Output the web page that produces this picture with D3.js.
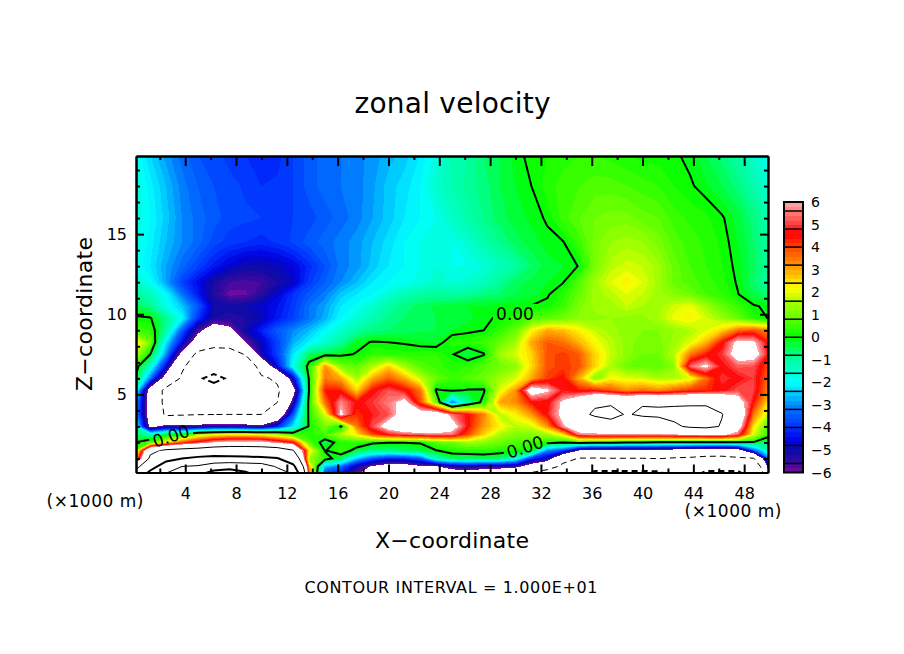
<!DOCTYPE html>
<html>
<head>
<meta charset="utf-8">
<title>zonal velocity</title>
<script src="https://cdn.jsdelivr.net/npm/d3@7"></script>
<style>
body { margin: 0; background: #fff; }
text { font-family: "DejaVu Sans", sans-serif; fill: #000; }
</style>
</head>
<body>
<svg id="chart" width="904" height="654"></svg>
<script>
// zonal velocity, one row per height, top row first
const xStep = 1.25
const zLevels = [20, 18, 16, 14.5, 13, 12, 11.25, 10.5, 9.75, 9, 8.25, 7.5, 6.75, 6, 5.25, 4.5, 3.75, 3, 2.5, 2, 1.5, 1, 0.5, 0]
const zonalRows = [
[-1.8,-2.4,-2.9,-3.3,-3.6,-3.7,-3.9,-4.0,-4.2,-4.1,-3.8,-3.5,-3.3,-3.2,-3.1,-2.9,-2.7,-2.5,-2.2,-1.7,-1.1,-1.0,-0.6,-0.4,-0.1,0.1,0.2,0.3,0.4,0.4,0.3,0.2,0.1,0.1,0.05,-0.1,-0.4,-0.7,-1.0,-1.5,-1.9],
[-1.6,-2.1,-2.6,-3.1,-3.4,-3.6,-3.7,-3.85,-4.0,-3.95,-3.8,-3.5,-3.3,-3.2,-3.1,-2.85,-2.5,-2.3,-2.0,-1.5,-1.2,-0.9,-0.7,-0.4,-0.2,0,0.3,0.5,0.6,0.7,0.7,0.6,0.5,0.4,0.2,0.05,-0.15,-0.4,-0.7,-1.1,-1.6],
[-1.6,-2.0,-2.5,-3.0,-3.3,-3.5,-3.7,-3.75,-3.8,-3.9,-3.8,-3.7,-3.5,-3.3,-3.1,-2.8,-2.5,-2.2,-2.0,-1.8,-1.4,-1.1,-0.8,-0.5,-0.3,-0.15,0.05,0.5,0.8,1.0,1.1,1.1,0.9,0.8,0.5,0.35,0.25,0.05,-0.3,-0.7,-1.2],
[-1.7,-2.1,-2.6,-3.0,-3.3,-3.7,-3.9,-4.0,-4.1,-3.95,-3.75,-3.5,-3.3,-3.1,-2.9,-2.6,-2.3,-2.0,-1.8,-1.7,-1.8,-1.5,-1.1,-0.8,-0.5,-0.3,-0.1,-0.02,0.5,1.1,1.4,1.5,1.4,1.1,0.7,0.5,0.35,0.15,-0.2,-0.6,-1.0],
[-1.8,-2.2,-2.8,-3.3,-3.8,-4.3,-4.7,-5.0,-5.0,-4.9,-4.6,-4.1,-3.6,-3.1,-2.9,-2.5,-2.2,-2.0,-1.8,-1.6,-1.8,-1.8,-1.6,-1.3,-1.0,-0.6,-0.3,-0.2,0.02,1.1,1.7,1.9,1.8,1.5,0.9,0.6,0.4,0.2,-0.1,-0.5,-1.0],
[-1.4,-1.9,-2.8,-3.8,-4.5,-5.2,-5.6,-5.7,-5.6,-5.2,-4.8,-3.9,-3.4,-3.0,-2.6,-2.2,-2.0,-1.9,-1.7,-1.5,-1.6,-1.5,-1.3,-0.9,-0.5,-0.35,-0.2,-0.02,0.7,1.5,2.0,2.3,2.0,1.5,0.9,0.7,0.5,0.3,-0.05,-0.6,-1.0],
[-0.9,-1.3,-2.0,-3.2,-4.3,-5.3,-5.9,-5.85,-5.4,-4.7,-4.0,-3.5,-3.1,-2.5,-2.2,-2.0,-1.6,-1.2,-1.0,-0.9,-1.0,-0.9,-0.7,-0.6,-0.4,-0.3,-0.05,0.3,0.9,1.5,1.7,2.0,1.8,1.5,1.2,1.0,0.6,0.4,0.02,-0.4,-0.7],
[-0.4,-0.8,-1.8,-2.5,-3.5,-5.0,-5.1,-5.0,-4.7,-4.4,-3.9,-3.2,-2.8,-2.2,-1.9,-1.5,-1.0,-0.7,-0.5,-0.35,-0.25,-0.2,-0.15,-0.1,-0.05,0.02,0.1,0.5,1.1,1.5,1.5,1.8,1.6,1.5,1.9,2.1,1.5,0.9,0.5,0.05,-0.1],
[0.1,0.05,-0.8,-2.0,-4.0,-5.2,-5.3,-5.2,-4.9,-4.3,-3.8,-3.2,-2.7,-2.0,-1.6,-1.2,-0.8,-0.6,-0.5,-0.4,-0.3,-0.25,-0.1,0.08,0.3,0.7,0.8,1.0,1.3,1.3,1.4,1.3,1.3,1.6,2.1,2.3,1.9,1.4,0.9,0.3,-0.05],
[0.6,0.4,-1.0,-3.5,-5.6,-7.0,-6.3,-5.0,-4.2,-3.5,-3.0,-2.6,-2.0,-1.5,-1.0,-0.7,-0.6,-0.5,-0.45,-0.4,-0.2,-0.1,0,0.4,0.9,2.2,3.0,2.8,2.3,1.8,1.5,1.3,1.2,1.2,1.4,1.6,2.0,2.6,3.6,3.9,3.3],
[2.7,1.0,-2.2,-4.5,-7.0,-8.0,-8.5,-6.0,-4.8,-3.8,-2.7,-2.1,-1.5,-0.9,-0.2,0.05,0,-0.05,-0.15,-0.25,0.3,0.35,0.5,0.9,1.5,3.0,3.8,3.6,2.9,2.2,1.7,1.3,1.1,1.1,1.5,2.0,2.9,4.5,6.4,6.2,4.3],
[1.8,0,-3.0,-6.5,-11,-12.5,-11.5,-9.8,-5.0,-3.8,-2.2,-0.5,-0.3,-0.15,0.05,0.4,0.35,0.3,0.3,0.4,0.05,-0.4,-0.05,1.5,1.9,2.6,3.9,4.1,3.8,2.6,1.8,1.3,1.0,1.0,1.7,3.5,4.4,5.0,6.8,6.8,4.5],
[0.5,-1.5,-4.5,-9.5,-12,-13,-14,-13,-8.5,-4.5,-1.8,0.3,3.2,1.2,0.8,1.6,2.6,1.5,0.8,0.5,0.3,0.4,0.7,1.0,1.3,2.5,3.9,4.1,3.9,2.6,1.6,1.0,0.9,0.8,1.3,5.4,6.3,4.6,5.3,5.2,3.8],
[0.1,-3.2,-7,-10.5,-18,-24,-18,-13,-10.5,-9.5,-4.7,0.1,3.5,3.0,1.5,3.0,3.8,3.0,1.8,0.9,0.5,0.7,1.0,1.5,1.9,3.0,4.1,4.6,3.0,1.2,2.2,2.0,1.9,1.6,1.6,2.0,3.6,5.0,4.6,5.0,3.5],
[-1,-7,-11,-12,-13,-13.5,-13.5,-13,-12,-10.5,-6.8,0.05,4.4,4.4,2.6,4.6,5.2,4.7,3.6,-0.1,0.1,-0.05,-0.1,2.0,3.2,7,6.2,4.7,4.4,4.4,3.9,3.3,3.6,3.3,3.8,4.2,4.3,4.6,5.2,5.0,3.2],
[-2.2,-7,-11,-12,-12.5,-12.5,-12.5,-12.5,-12,-10,-5.3,0.3,3.6,5.7,4.6,5.0,5.6,6.5,4.0,1.0,-3.2,-1,0.3,3.0,3.3,4.5,4.5,6.3,7.5,9.5,9.7,9,9.8,9.6,9.6,9.6,9.6,9.0,7.0,4.5,2.2],
[-2.2,-7,-10.5,-10.3,-10.1,-10.05,-10,-10,-10,-8,-3.5,0.2,2.0,6.3,4.2,4.8,5.2,6.8,7,7.3,5.5,4.6,3.4,1.7,2.3,3.2,4.7,6.5,9.0,10.5,10.8,9.8,10.4,10.6,10.8,11,11,10.1,8.0,3.5,1.6],
[-1,-6.5,-5.4,-5.5,-5.3,-5,-5,-5.2,-5.5,-4.2,-2.2,0.1,1.1,-0.1,3.5,5.2,6.8,8,8.5,8.5,6.8,4.6,3.1,2.3,1.7,1.9,3.2,5.8,7.2,7.4,8.8,8,7.8,8,9.5,10.5,10.8,9.8,7,2.4,0.5],
[-0.5,-1.3,-0.3,-0.1,1.5,2,2.2,2.2,2,1.5,0.6,0.3,0.6,1.6,2.4,4,4.8,5.2,5.4,5.6,5.5,4,2.6,1.6,1.2,1.2,1.5,2.5,5.6,5.8,5.8,5.8,5.8,5.8,6,6.2,6.3,6.4,5.4,2,0.3],
[0,0.8,2.5,4,5,6,6.5,6.5,6.5,5.5,4.6,0.8,-0.4,0.3,0.5,0.1,0.02,0.02,0.05,0.8,1,1.5,1.3,1,0.7,0.5,0.3,0.02,0.4,0.3,0.3,0.1,-0.02,-0.1,-0.2,-0.2,-0.2,-0.2,-0.1,-0.1,-0.8],
[0.1,9,10.8,11.5,12,13,13.5,13.5,13,12.5,10.2,2.5,-0.05,0.5,-0.3,-0.7,-0.7,-0.5,-0.35,-0.03,0.3,0.4,0.4,0.3,0.2,0.1,-3,-3.8,-6,-6.5,-6.6,-6.5,-6.5,-6.6,-6.8,-7,-7.3,-7.5,-7,-3.5,-1.2],
[2,10.8,17,20,22,23,22.5,22,21.5,20.5,15,1.5,0.4,-0.5,-2.5,-3.6,-4.2,-4.1,-3.5,-1.3,-0.5,-0.5,-0.4,-0.6,-1.5,-4,-5,-8.5,-10.2,-10.2,-10.1,-10.1,-10.1,-9.9,-10.3,-10.5,-11,-11,-10.5,-10.2,-3],
[7,16,25,30,31,35,37,36,35,29,22,3,-2.5,-3.3,-5,-6.2,-6.8,-6.8,-6.2,-6.1,-5.2,-5,-5.3,-5.3,-5.5,-7,-8,-11,-15,-17.5,-17.5,-17.5,-17.5,-17,-15,-15,-17.5,-17.5,-17.5,-14,-4.5],
[12,24,31,36,39,45,46,42,38,35,30,4,-4,-4.5,-6,-8,-9,-9,-8.5,-8,-7.5,-7,-7.5,-8,-9,-11,-13,-18,-19,-22,-22,-22,-22,-22,-18,-18,-22,-22,-22,-17,-6]
]

const xTicks = [4, 8, 12, 16, 20, 24, 28, 32, 36, 40, 44, 48]
const xMinorTicks = [2, 6, 10, 14, 18, 22, 26, 30, 34, 38, 42, 46]
const zTicks = [5, 10, 15]
const zMinorTicks = [1, 2, 3, 4, 6, 7, 8, 9, 11, 12, 13, 14, 16, 17, 18, 19]
const barTicks = [6, 5, 4, 3, 2, 1, 0, -1, -2, -3, -4, -5, -6]
const barBreaks = [-5.6, -4.8, -4, -3.2, -2.4, -1.6, -0.8, 0, 0.8, 1.6, 2.4, 3.2, 4, 4.8, 5.6]
const contourLevels = [-20, -10, 0, 10, 20, 30, 40]
const colourStops = [-6, -5.6, -5, -4.6, -4, -3.2, -2.4, -2, -1.6, -0.8, 0, 0.8, 1.6, 2.2, 3, 4, 4.6, 5.2, 6]
const colourValues = ["#7a0aa0", "#3a0a9e", "#0a0aa8", "#0000e0", "#0030ff", "#0070ff", "#00d8ff", "#00ffff", "#00ffd8", "#00ff90", "#00ff00", "#5aff00", "#aaff00", "#ffff00", "#ffaa00", "#ff4600", "#ff0000", "#ff5050", "#ffaaaa"]
const zeroLabels = [
	{ x: 515, y: 314, angle: 0 },
	{ x: 171, y: 436, angle: -18 },
	{ x: 525, y: 447, angle: -18 }
]

const svg = d3.select("#chart")

const x = d3.scaleLinear().domain([0.125, 49.875]).range([136, 768])
const z = d3.scaleLinear().domain([0.125, 19.875]).range([472.5, 156])
const barY = d3.scaleLinear().domain([-6, 6]).range([472.5, 202])
const colour = d3.scaleLinear().domain(colourStops).range(colourValues)

// contour coordinates are in grid cells, a grid node sits at i + 0.5
const rowToZ = d3.scaleLinear().domain(zLevels.map((d, i) => i + 0.5)).range(zLevels)
const colToX = (c) => (c - 0.5) * xStep

const cols = zonalRows[0].length
const rows = zonalRows.length
const values = zonalRows.flat()

const path = d3.geoPath(d3.geoTransform({
	point: function (cx, cy) {
		this.stream.point(x(colToX(cx)), z(rowToZ(cy)))
	}
}))
const contours = d3.contours().size([cols, rows]).smooth(true)

svg.append("clipPath").attr("id", "plotClip")
	.append("rect").attr("x", 136).attr("y", 156).attr("width", 632).attr("height", 316.5)

const plot = svg.append("g").attr("clip-path", "url(#plotClip)")

// colour bands, painted from low to high, under -6 and over 6 stay white
const bands = d3.range(61).map((i) => -6 + i * 0.2)
plot.selectAll("path.band")
	.data(bands)
	.join("path")
	.attr("class", "band")
	.attr("d", (t) => path(contours.contour(values, t)))
	.attr("fill", (t) => (t >= 5.99 ? "#fff" : colour(t + 0.1)))
	.attr("shape-rendering", "crispEdges")

// the contour line stops where its label sits
const mask = svg.append("mask").attr("id", "labelGaps").attr("maskUnits", "userSpaceOnUse")
	.attr("x", 0).attr("y", 0).attr("width", 904).attr("height", 654)
mask.append("rect").attr("width", 904).attr("height", 654).attr("fill", "#fff")
mask.selectAll("rect.gap")
	.data(zeroLabels)
	.join("rect")
	.attr("class", "gap")
	.attr("x", -22).attr("y", -10).attr("width", 44).attr("height", 20)
	.attr("fill", "#000")
	.attr("transform", (d) => `translate(${d.x},${d.y}) rotate(${d.angle})`)

plot.append("g").attr("mask", "url(#labelGaps)")
	.selectAll("path.level")
	.data(contourLevels)
	.join("path")
	.attr("class", "level")
	.attr("d", (t) => path(contours.contour(values, t)))
	.attr("fill", "none")
	.attr("stroke", "#000")
	.attr("stroke-width", (t) => (t % 20 === 0 ? 2 : 1))
	.attr("stroke-dasharray", (t) => (t < 0 ? "6,4" : null))

plot.selectAll("text.zero")
	.data(zeroLabels)
	.join("text")
	.attr("class", "zero")
	.attr("text-anchor", "middle")
	.attr("dy", "0.36em")
	.attr("font-size", 17)
	.attr("transform", (d) => `translate(${d.x},${d.y}) rotate(${d.angle})`)
	.text("0.00")

// axes, all ticks point inwards
function addAxis(axis, tx, ty) {
	const g = svg.append("g").attr("transform", `translate(${tx},${ty})`).call(axis)
	g.select(".domain").attr("stroke", "#000").attr("stroke-width", 2)
	g.selectAll("line").attr("stroke", "#000").attr("stroke-width", 2)
	g.selectAll("text").attr("fill", "#000").attr("font-size", 16).attr("font-family", "DejaVu Sans")
	return g
}
const blank = () => ""

addAxis(d3.axisBottom(x).tickValues(xTicks).tickSizeInner(-8).tickSizeOuter(0).tickPadding(15).tickFormat(d3.format("d")), 0, 472.5)
addAxis(d3.axisBottom(x).tickValues(xMinorTicks).tickSizeInner(-4).tickSizeOuter(0).tickFormat(blank), 0, 472.5)
addAxis(d3.axisTop(x).tickValues(xTicks).tickSizeInner(-10).tickSizeOuter(0).tickFormat(blank), 0, 156)
addAxis(d3.axisTop(x).tickValues(xMinorTicks).tickSizeInner(-4).tickSizeOuter(0).tickFormat(blank), 0, 156)
addAxis(d3.axisLeft(z).tickValues(zTicks).tickSizeInner(-8).tickSizeOuter(0).tickPadding(9).tickFormat(d3.format("d")), 136, 0)
addAxis(d3.axisLeft(z).tickValues(zMinorTicks).tickSizeInner(-4).tickSizeOuter(0).tickFormat(blank), 136, 0)
addAxis(d3.axisRight(z).tickValues(zTicks).tickSizeInner(-8).tickSizeOuter(0).tickFormat(blank), 768, 0)
addAxis(d3.axisRight(z).tickValues(zMinorTicks).tickSizeInner(-4).tickSizeOuter(0).tickFormat(blank), 768, 0)

// colour bar
const bar = svg.append("g")
bar.selectAll("rect.step")
	.data(bands.slice(0, 60))
	.join("rect")
	.attr("class", "step")
	.attr("x", 784).attr("width", 19)
	.attr("y", (t) => barY(t + 0.2))
	.attr("height", (t) => barY(t) - barY(t + 0.2) + 0.5)
	.attr("fill", (t) => colour(t + 0.1))
	.attr("shape-rendering", "crispEdges")
bar.selectAll("line.break")
	.data(barBreaks)
	.join("line")
	.attr("class", "break")
	.attr("x1", 784).attr("x2", 803)
	.attr("y1", barY).attr("y2", barY)
	.attr("stroke", "#000").attr("stroke-width", 1.5)
bar.append("rect")
	.attr("x", 784).attr("y", barY(6)).attr("width", 19).attr("height", barY(-6) - barY(6))
	.attr("fill", "none").attr("stroke", "#000").attr("stroke-width", 2)
bar.selectAll("text")
	.data(barTicks)
	.join("text")
	.attr("x", 811)
	.attr("y", barY)
	.attr("dy", "0.36em")
	.attr("font-size", 14)
	.text((d) => (d < 0 ? "\u2212" + (-d) : d))

// titles and notes
function note(label, px, py, size, width) {
	return svg.append("text")
		.attr("x", px).attr("y", py)
		.attr("font-size", size)
		.attr("text-anchor", "middle")
		.attr("textLength", width)
		.attr("lengthAdjust", "spacing")
		.text(label)
}
note("zonal velocity", 452.5, 113, 28, 196)
note("X\u2212coordinate", 452, 548, 22, 154)
note("(\u00d71000 m)", 95, 507, 17, 97)
note("(\u00d71000 m)", 733, 517, 17, 97)
note("CONTOUR INTERVAL = 1.000E+01", 451, 593, 16, 293)
svg.append("text")
	.attr("transform", "translate(92,314) rotate(-90)")
	.attr("text-anchor", "middle")
	.attr("font-size", 22)
	.attr("textLength", 154)
	.attr("lengthAdjust", "spacing")
	.text("Z\u2212coordinate")
</script>
</body>
</html>
